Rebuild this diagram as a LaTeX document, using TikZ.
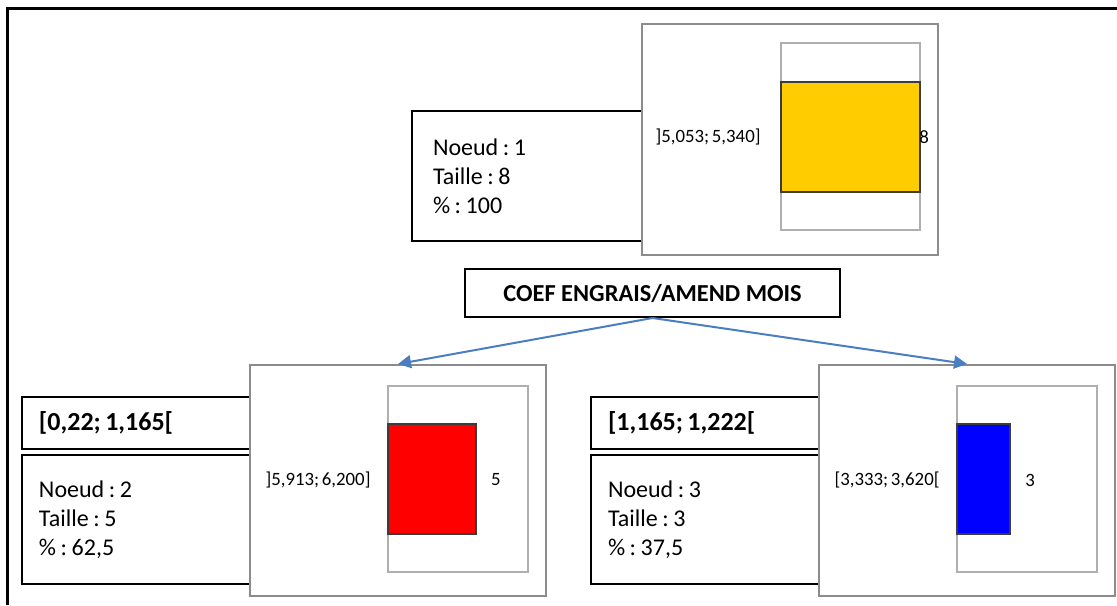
\documentclass[tikz,border=0pt]{standalone}
\usepackage{fontspec}
\setmainfont{Carlito}
\usetikzlibrary{arrows.meta}
\definecolor{arrowblue}{RGB}{74,126,193}
\definecolor{chartgray}{RGB}{140,140,140}
\definecolor{plotgray}{RGB}{175,175,175}
\definecolor{baryellow}{RGB}{255,204,0}
\definecolor{barred}{RGB}{255,0,0}
\definecolor{barblue}{RGB}{0,0,255}
\definecolor{bardark}{RGB}{60,60,60}
\newcommand\mytightspace[1]{\spaceskip=#1em\relax}
\frenchspacing
\begin{document}
\frenchspacing
\begin{tikzpicture}[x=0.5pt,y=-0.5pt,
  bigtext/.style={font=\fontsize{12}{14.5}\selectfont,execute at begin node={\mytightspace{0.19}}},
  infobox/.style={draw=black,line width=1pt,fill=white,rectangle,inner ysep=0pt,
    anchor=north west,align=left,bigtext,minimum height=64.5pt},
  labelbox/.style={draw=black,line width=1pt,fill=white,rectangle,inner ysep=0pt,
    anchor=north west,align=left,font=\fontsize{13}{15}\selectfont\bfseries,
    execute at begin node={\mytightspace{0.17}},minimum height=26pt},
  chartbox/.style={draw=chartgray,line width=1pt,fill=white,rectangle,inner sep=0pt,
    anchor=north west,minimum width=148pt,minimum height=115.5pt},
  plotarea/.style={draw=plotgray,line width=0.6pt,fill=white},
  bar/.style={draw=bardark,line width=0.6pt},
  smalllabel/.style={font=\fontsize{9.4}{11}\selectfont,execute at begin node={\mytightspace{0.15}},inner sep=0pt},
  splitbox/.style={draw=black,line width=1pt,fill=white,rectangle,inner sep=0pt,
    minimum width=187.5pt,minimum height=24pt,font=\fontsize{12.2}{14.5}\selectfont\bfseries},
  arr/.style={draw=arrowblue,line width=1pt,-{Triangle[length=6.5pt,width=6.5pt]}}
]
\useasboundingbox (0,0) rectangle (1117,605);
% outer frame
\draw[line width=1.5pt] (7,605) -- (7,8) -- (1117,8);

% ---------- node 1 ----------
\node[infobox,inner xsep=10.5pt,text width=103.5pt,minimum height=65pt] (t1) at (411,110)
  {Noeud : 1\\Taille : 8\\\% : 100};
\node[chartbox] (c1) at (641,23) {};
\draw[plotarea] (781,43) rectangle (920,230);
\draw[bar,fill=baryellow] (781,82) rectangle (920,192);
\node[smalllabel] (l1) at (708,137) {]5,053; 5,340]};
\node[smalllabel,anchor=west] (n1) at (919,137) {8};

% ---------- split ----------
\node[splitbox] (coef) at (652.5,293) {COEF ENGRAIS/AMEND MOIS};

% ---------- node 2 ----------
\node[labelbox,inner xsep=8.5pt,text width=103.5pt] (b2) at (21,396) {[0,22; 1,165[};
\node[infobox,inner xsep=8.5pt,text width=103.5pt] (t2) at (21,454)
  {Noeud : 2\\Taille : 5\\\% : 62,5};
\node[chartbox] (c2) at (249,364) {};
\draw[plotarea] (388,386) rectangle (528,572);
\draw[bar,fill=barred] (388,424) rectangle (476,534);
\node[smalllabel] (l2) at (318,480) {]5,913; 6,200]};
\node[smalllabel] (n2) at (496,480) {5};

% ---------- node 3 ----------
\node[labelbox,inner xsep=8.5pt,text width=103.5pt] (b3) at (590,396) {[1,165; 1,222[};
\node[infobox,inner xsep=8.5pt,text width=103.5pt] (t3) at (590,454)
  {Noeud : 3\\Taille : 3\\\% : 37,5};
\node[chartbox] (c3) at (818,364) {};
\draw[plotarea] (957,386) rectangle (1097,572);
\draw[bar,fill=barblue] (957,424) rectangle (1010,534);
\node[smalllabel] (l3) at (887,480) {[3,333; 3,620[};
\node[smalllabel] (n3) at (1030,480) {3};

% ---------- connectors ----------
\draw[arr] (coef.south) -- (c2.north);
\draw[arr] (coef.south) -- (c3.north);
\end{tikzpicture}
\end{document}
